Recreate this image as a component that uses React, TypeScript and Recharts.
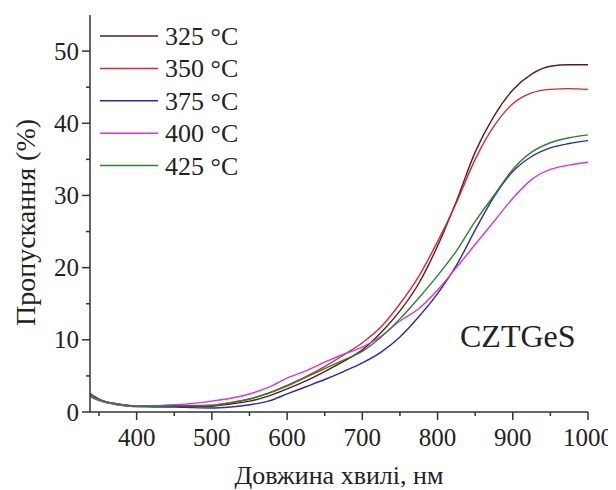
import React from 'react';
import { LineChart, Line, XAxis, YAxis, Legend } from 'recharts';

// Transmission spectra of CZTGeS films annealed at different temperatures
const wavelengths = [338, 350, 375, 400, 425, 450, 475, 500, 525, 550, 575, 600, 625, 650, 675, 700, 725, 750, 775, 800, 825, 850, 875, 900, 925, 950, 975, 1000];
const t325 = [2.6, 1.8, 1.1, 0.8, 0.8, 0.8, 0.75, 0.8, 1.1, 1.5, 2.2, 3.2, 4.3, 5.6, 7.0, 8.6, 11.0, 14.0, 17.8, 23.0, 29.2, 36.0, 41.0, 44.6, 46.8, 47.9, 48.1, 48.1];
const t350 = [2.3, 1.7, 1.1, 0.8, 0.85, 0.9, 0.9, 0.95, 1.3, 1.8, 2.6, 3.7, 4.9, 6.3, 7.9, 9.6, 11.8, 15.0, 18.8, 23.6, 29.0, 35.0, 39.6, 42.7, 44.2, 44.7, 44.8, 44.7];
const t375 = [2.2, 1.6, 1.0, 0.75, 0.7, 0.7, 0.6, 0.55, 0.7, 1.0, 1.5, 2.5, 3.5, 4.5, 5.6, 6.8, 8.3, 10.4, 13.2, 16.4, 20.3, 25.2, 29.8, 33.3, 35.4, 36.6, 37.2, 37.6];
const t400 = [2.2, 1.6, 1.0, 0.75, 0.85, 1.0, 1.2, 1.5, 1.9, 2.5, 3.4, 4.7, 5.7, 6.9, 8.0, 9.0, 10.5, 12.6, 14.3, 16.9, 20.0, 23.2, 26.4, 29.6, 32.2, 33.6, 34.2, 34.6];
const t425 = [2.3, 1.7, 1.1, 0.8, 0.8, 0.85, 0.85, 0.9, 1.3, 1.8, 2.6, 3.6, 4.8, 6.0, 7.2, 8.4, 10.4, 12.9, 15.8, 18.9, 22.3, 26.4, 30.0, 33.6, 36.0, 37.3, 38.0, 38.4];

const seriesNames = ['325 °C', '350 °C', '375 °C', '400 °C', '425 °C'];
const seriesKeys = ['s325', 's350', 's375', 's400', 's425'];
const seriesColors = ['#5a1c1c', '#d42a30', '#2a2aa8', '#d636d8', '#2f7f35'];
const seriesValues = [t325, t350, t375, t400, t425];

const xTicks = [350, 400, 450, 500, 550, 600, 650, 700, 750, 800, 850, 900, 950, 1000];
const yTicks = [0, 5, 10, 15, 20, 25, 30, 35, 40, 45, 50];

const data = wavelengths.map((w, i) => {
  const row: Record<string, number> = { w };
  seriesKeys.forEach((k, j) => {
    row[k] = seriesValues[j][i];
  });
  return row;
});

const FONT = '"Liberation Serif", "Times New Roman", serif';
const INK = '#222';
const AXIS = '#333';

const XTick = (props: any) => {
  const { x, y, payload } = props;
  const major = payload.value % 100 === 0;
  return (
    <g>
      <line x1={x} x2={x} y1={y} y2={y + (major ? 8 : 4)} stroke={AXIS} strokeWidth={1.5} />
      {major && (
        <text x={x} y={y + 34} textAnchor="middle" fontSize={25} fill={INK} fontFamily={FONT}>
          {payload.value}
        </text>
      )}
    </g>
  );
};

const YTick = (props: any) => {
  const { x, y, payload } = props;
  const major = payload.value % 10 === 0;
  return (
    <g>
      <line x1={x} x2={x - (major ? 8 : 4)} y1={y} y2={y} stroke={AXIS} strokeWidth={1.5} />
      {major && (
        <text x={x - 11} y={y + 8.5} textAnchor="end" fontSize={25} fill={INK} fontFamily={FONT}>
          {payload.value}
        </text>
      )}
    </g>
  );
};

const XTitle = (props: any) => {
  const vb = props.viewBox || {};
  return (
    <text x={vb.x + vb.width / 2} y={vb.y + 72} textAnchor="middle" fontSize={26} fill={INK} fontFamily={FONT}>
      Довжина хвилі, нм
    </text>
  );
};

const YTitle = (props: any) => {
  const vb = props.viewBox || {};
  const cx = 27;
  const cy = vb.y + vb.height / 2 + 9;
  return (
    <text x={cx} y={cy} transform={`rotate(-90 ${cx} ${cy})`} textAnchor="middle" fontSize={28} fill={INK} fontFamily={FONT}>
      Пропускання (%)
    </text>
  );
};

const LegendContent = (props: any) => {
  const payload = props.payload || [];
  return (
    <svg width={170} height={175}>
      {payload.map((p: any, i: number) => {
        const cy = 16 + i * 32.4;
        return (
          <g key={p.value}>
            <line x1={0} x2={58} y1={cy} y2={cy} stroke={p.color} strokeWidth={1.5} />
            <text x={65} y={cy + 9} fontSize={26} fill={INK} fontFamily={FONT}>
              {p.value}
            </text>
          </g>
        );
      })}
    </svg>
  );
};

export default function App() {
  return (
    <LineChart width={608} height={482} data={data} margin={{ top: 7, right: 28, bottom: 0, left: 0 }}>
      <XAxis
        dataKey="w"
        type="number"
        domain={[338, 1000]}
        allowDataOverflow
        ticks={xTicks}
        interval={0}
        tickSize={0}
        tickMargin={0}
        tickLine={false}
        tick={<XTick />}
        height={78}
        axisLine={{ stroke: AXIS, strokeWidth: 1.5 }}
        label={<XTitle />}
      />
      <XAxis
        xAxisId="top"
        orientation="top"
        type="number"
        domain={[338, 1000]}
        height={0}
        tick={false}
        tickLine={false}
        axisLine={{ stroke: AXIS, strokeWidth: 1.5 }}
      />
      <YAxis
        type="number"
        domain={[0, 55]}
        allowDataOverflow
        ticks={yTicks}
        interval={0}
        tickSize={0}
        tickMargin={0}
        tickLine={false}
        tick={<YTick />}
        width={82}
        axisLine={{ stroke: AXIS, strokeWidth: 1.5 }}
        label={<YTitle />}
      />
      <YAxis
        yAxisId="right"
        orientation="right"
        type="number"
        domain={[0, 55]}
        width={0}
        tick={false}
        tickLine={false}
        axisLine={{ stroke: AXIS, strokeWidth: 1.5 }}
      />
      {seriesKeys.map((k, j) => (
        <Line
          key={k}
          dataKey={k}
          name={seriesNames[j]}
          stroke={seriesColors[j]}
          strokeWidth={1.4}
          dot={false}
          type="monotone"
          isAnimationActive={false}
        />
      ))}
      <Legend
        layout="vertical"
        align="center"
        verticalAlign="middle"
        wrapperStyle={{ position: 'absolute', left: 92, top: 12, width: 170, height: 175 }}
        content={<LegendContent />}
      />
      <text x={452} y={339} fontSize={32} fill={INK} fontFamily={FONT}>
        CZTGeS
      </text>
    </LineChart>
  );
}
